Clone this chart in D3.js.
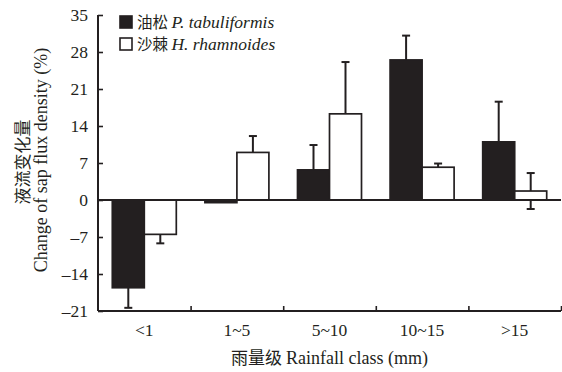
<!DOCTYPE html>
<html>
<head>
<meta charset="utf-8">
<script src="https://cdn.jsdelivr.net/npm/d3@7"></script>
<style>
  body { margin: 0; background: #fff; }
  text, tspan { font-family: "Liberation Serif", "Times New Roman", serif; fill: #231f20; }
  .cjk { font-family: "Noto Sans CJK SC", sans-serif; }
  .sp { font-family: "Liberation Serif", serif; font-style: italic; }
</style>
</head>
<body>
<script>
// Data
//////////////////////////////////////////////////////////////////////
var classes = ["<1", "1~5", "5~10", "10~15", ">15"];
var pineMean = [-16.6, -0.5, 5.7, 26.5, 11.0];   // 油松 P. tabuliformis
var pineErr  = [3.8, 0, 4.7, 4.6, 7.6];
var buckMean = [-6.5, 9.0, 16.3, 6.2, 1.7];      // 沙棘 H. rhamnoides
var buckErr  = [1.7, 3.1, 9.8, 0.7, 3.4];
var yTicks = [-21, -14, -7, 0, 7, 14, 21, 28, 35];

// Layout
//////////////////////////////////////////////////////////////////////
var width = 562, height = 372;
var plotL = 98, plotR = 561, plotT = 15, plotB = 311;
var ink = "#231f20";

var svg = d3.select("body").append("svg")
  .attr("width", width)
  .attr("height", height);

var x = d3.scaleBand().domain(classes).range([plotL, plotR]);
var y = d3.scaleLinear().domain([-21, 35]).range([plotB, plotT]);
var barW = 32;

var series = [
  { mean: pineMean, err: pineErr, fill: ink, off: -barW },
  { mean: buckMean, err: buckErr, fill: "#fff", off: 0 }
];

// error bars first, bars drawn over them
series.forEach(function (s) {
  var g = svg.append("g").attr("stroke", ink).attr("stroke-width", 2);
  classes.forEach(function (c, i) {
    if (!s.err[i]) return;
    var cx = x(c) + x.bandwidth() / 2 + s.off + barW / 2;
    var y1 = y(s.mean[i] + s.err[i]), y2 = y(s.mean[i] - s.err[i]);
    g.append("line").attr("x1", cx).attr("x2", cx).attr("y1", y1).attr("y2", y2);
    g.append("line").attr("x1", cx - 4).attr("x2", cx + 4).attr("y1", y1).attr("y2", y1);
    g.append("line").attr("x1", cx - 4).attr("x2", cx + 4).attr("y1", y2).attr("y2", y2);
  });
});

series.forEach(function (s) {
  svg.append("g")
    .selectAll("rect")
    .data(classes)
    .join("rect")
    .attr("x", function (c) { return x(c) + x.bandwidth() / 2 + s.off; })
    .attr("width", barW)
    .attr("y", function (c, i) { return y(Math.max(0, s.mean[i])); })
    .attr("height", function (c, i) { return Math.abs(y(s.mean[i]) - y(0)); })
    .attr("fill", s.fill)
    .attr("stroke", ink)
    .attr("stroke-width", 1.7);
});

// zero line
svg.append("line")
  .attr("x1", plotL).attr("x2", plotR)
  .attr("y1", y(0)).attr("y2", y(0))
  .attr("stroke", ink).attr("stroke-width", 2);

// Axes
//////////////////////////////////////////////////////////////////////
var fmt = function (d) { return d < 0 ? "\u2013" + Math.abs(d) : d; };
var yAxis = svg.append("g")
  .attr("transform", "translate(" + plotL + ",0)")
  .call(d3.axisRight(y).tickValues(yTicks).tickSize(5).tickFormat(fmt));
yAxis.select(".domain").attr("d", "M0," + plotT + "H0V" + plotB).attr("stroke", ink).attr("stroke-width", 2);
yAxis.selectAll(".tick line").attr("stroke", ink).attr("stroke-width", 1.6);
yAxis.selectAll(".tick text")
  .attr("x", -10).attr("text-anchor", "end")
  .attr("font-size", 17.5).attr("fill", ink);

var xb = d3.scaleLinear().domain([0, classes.length]).range([plotL, plotR]);
var xAxis = svg.append("g")
  .attr("transform", "translate(0," + plotB + ")")
  .call(d3.axisTop(xb).tickValues(d3.range(1, classes.length + 1)).tickSize(5).tickFormat(""));
xAxis.select(".domain").attr("d", "M" + plotL + ",0H" + plotR).attr("stroke", ink).attr("stroke-width", 2);
xAxis.selectAll(".tick line").attr("stroke", ink).attr("stroke-width", 1.6);

svg.append("g")
  .selectAll("text")
  .data(classes)
  .join("text")
  .attr("x", function (c) { return x(c) + x.bandwidth() / 2; })
  .attr("y", 336)
  .attr("text-anchor", "middle")
  .attr("font-size", 17.5)
  .text(function (c) { return c; });

// Titles
//////////////////////////////////////////////////////////////////////
var xt = svg.append("text")
  .attr("x", (plotL + plotR) / 2).attr("y", 364)
  .attr("text-anchor", "middle")
  .attr("font-size", 18);
xt.append("tspan").attr("class", "cjk").attr("font-size", 17).text("雨量级 ");
xt.append("tspan").text("Rainfall class (mm)");

svg.append("text")
  .attr("class", "cjk")
  .attr("transform", "translate(29,162) rotate(-90)")
  .attr("text-anchor", "middle")
  .attr("font-size", 17)
  .text("液流变化量");

svg.append("text")
  .attr("transform", "translate(47,160) rotate(-90)")
  .attr("text-anchor", "middle")
  .attr("font-size", 18)
  .text("Change of sap flux density (%)");

// Legend
//////////////////////////////////////////////////////////////////////
var legend = [
  { zh: "油松 ", sp: "P. tabuliformis", fill: ink },
  { zh: "沙棘 ", sp: "H. rhamnoides", fill: "#fff" }
];
var lg = svg.append("g")
  .selectAll("g")
  .data(legend)
  .join("g")
  .attr("transform", function (d, i) { return "translate(120," + (16 + i * 22) + ")"; });
lg.append("rect")
  .attr("width", 12).attr("height", 12)
  .attr("fill", function (d) { return d.fill; })
  .attr("stroke", ink).attr("stroke-width", 1.6);
var lt = lg.append("text").attr("x", 17).attr("y", 12).attr("font-size", 17.5);
lt.append("tspan").attr("class", "cjk").attr("font-size", 15.5).text(function (d) { return d.zh; });
lt.append("tspan").attr("class", "sp").text(function (d) { return d.sp; });
</script>
</body>
</html>
